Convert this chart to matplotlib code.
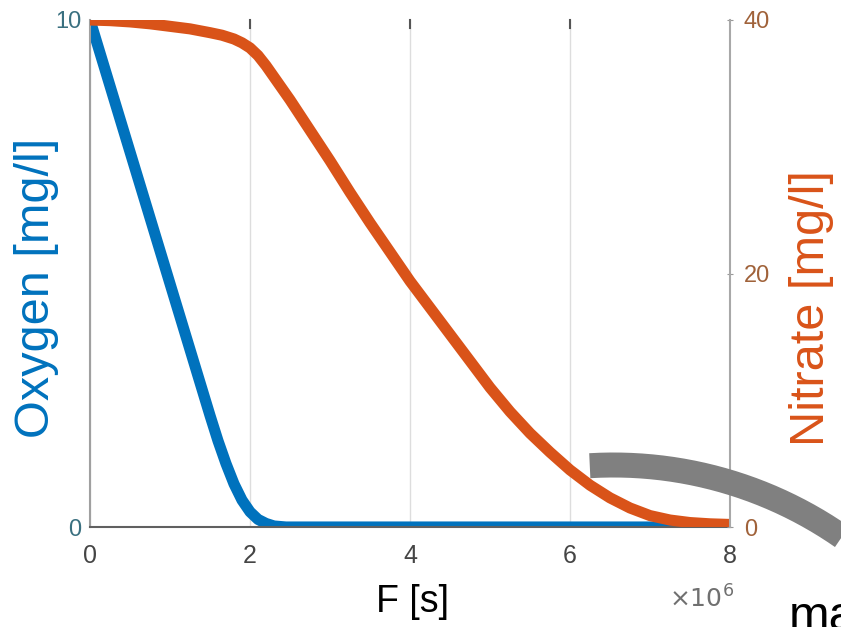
import numpy as np
import matplotlib.pyplot as plt

plt.rcParams['font.family'] = ['Liberation Sans', 'DejaVu Sans']

# time in units of 1e6 s
t_oxy = [0, 0.5, 1.0, 1.5, 1.6, 1.7, 1.8, 1.9, 2.0, 2.1, 2.2, 2.3, 2.45, 3, 4, 5, 6, 7, 8]
oxygen = [10, 7.4, 4.8, 2.2, 1.7, 1.25, 0.85, 0.53, 0.3, 0.15, 0.07, 0.02, 0,
          0, 0, 0, 0, 0, 0]

t_nit = [0, 0.25, 0.5, 0.75, 1.0, 1.25, 1.5, 1.65, 1.8, 1.9, 2.0, 2.1, 2.2, 2.3,
         2.4, 2.5, 2.75, 3.0, 3.25, 3.5, 3.75, 4.0, 4.25, 4.5, 4.75, 5.0, 5.25,
         5.5, 5.75, 6.0, 6.25, 6.5, 6.75, 7.0, 7.25, 7.5, 7.75, 8.0]
nitrate = [40, 39.95, 39.85, 39.7, 39.5, 39.3, 39.0, 38.8, 38.5, 38.2, 37.8, 37.2,
           36.4, 35.5, 34.6, 33.7, 31.3, 28.9, 26.4, 24.0, 21.7, 19.4, 17.3, 15.2,
           13.1, 11.0, 9.1, 7.4, 5.9, 4.5, 3.3, 2.3, 1.5, 0.9, 0.55, 0.35, 0.25, 0.2]

xticks = [0, 2, 4, 6, 8]
oxy_ticks = [0, 10]
nit_ticks = [0, 20, 40]

blue = '#0072BD'
orange = '#D95319'

fig = plt.figure(figsize=(8.41, 6.27), dpi=100)
ax = fig.add_axes([90 / 841, 100 / 627, 640 / 841, 507 / 627])
ax2 = ax.twinx()

ax.plot(t_oxy, oxygen, color=blue, lw=8, solid_joinstyle='round', solid_capstyle='butt')
ax2.plot(t_nit, nitrate, color=orange, lw=8, solid_joinstyle='round', solid_capstyle='butt')

ax.set_xlim(0, 8)
ax.set_ylim(0, 10)
ax2.set_ylim(0, 40)
ax.set_xticks(xticks)
ax.set_yticks(oxy_ticks)
ax2.set_yticks(nit_ticks)
ax.xaxis.grid(True, color='#dddddd', lw=1)

for a in (ax, ax2):
    a.spines['top'].set_visible(False)
ax.spines['left'].set_color('#a0a0a0')
ax.spines['bottom'].set_color('#606060')
ax2.spines['right'].set_color('#a8a8a8')
ax2.spines['left'].set_visible(False)
ax2.spines['bottom'].set_visible(False)
ax.spines['right'].set_visible(False)
for s in ('left', 'bottom'):
    ax.spines[s].set_linewidth(1.5)
ax2.spines['right'].set_linewidth(1.5)

ax.tick_params(axis='x', length=0, pad=12, labelsize=18, labelcolor='#454545')
ax.tick_params(axis='y', length=0, pad=6, labelsize=17, labelcolor='#3a7080')
ax2.tick_params(axis='y', length=4, direction='inout', color='#999999', pad=8,
                labelsize=17, labelcolor='#a0623a')
# small marks at top of grid lines
for xv in xticks[1:-1]:
    ax.plot([xv, xv], [10, 9.85], color='#555555', lw=1.5, clip_on=False)

fig.text(37 / 841, 1 - 288 / 627, 'Oxygen [mg/l]', rotation=90, ha='center', va='center',
         fontsize=35, color=blue)
fig.text(812 / 841, 1 - 308 / 627, 'Nitrate [mg/l]', rotation=90, ha='center', va='center',
         fontsize=35, color=orange)
fig.text(412 / 841, 1 - 602 / 627, 'F [s]', ha='center', va='center', fontsize=27, color='black')
fig.text(734 / 841, 1 - 608 / 627, r'$\times10^{6}$', ha='right', va='baseline',
         fontsize=18, color='#707070')

# gray arc overlay
over = fig.add_axes([0, 0, 1, 1])
over.set_xlim(0, 841)
over.set_ylim(627, 0)
over.axis('off')
over.patch.set_visible(False)
cx, cy, r = 613.5, 865, 400
ang = np.linspace(np.radians(-93.4), np.radians(-5), 300)
over.plot(cx + r * np.cos(ang), cy + r * np.sin(ang), color='#808080', lw=18,
          solid_capstyle='butt')
over.text(789, 630, 'ma', fontsize=35, color='black', ha='left', va='baseline')

fig.savefig('out.png', dpi=100)
